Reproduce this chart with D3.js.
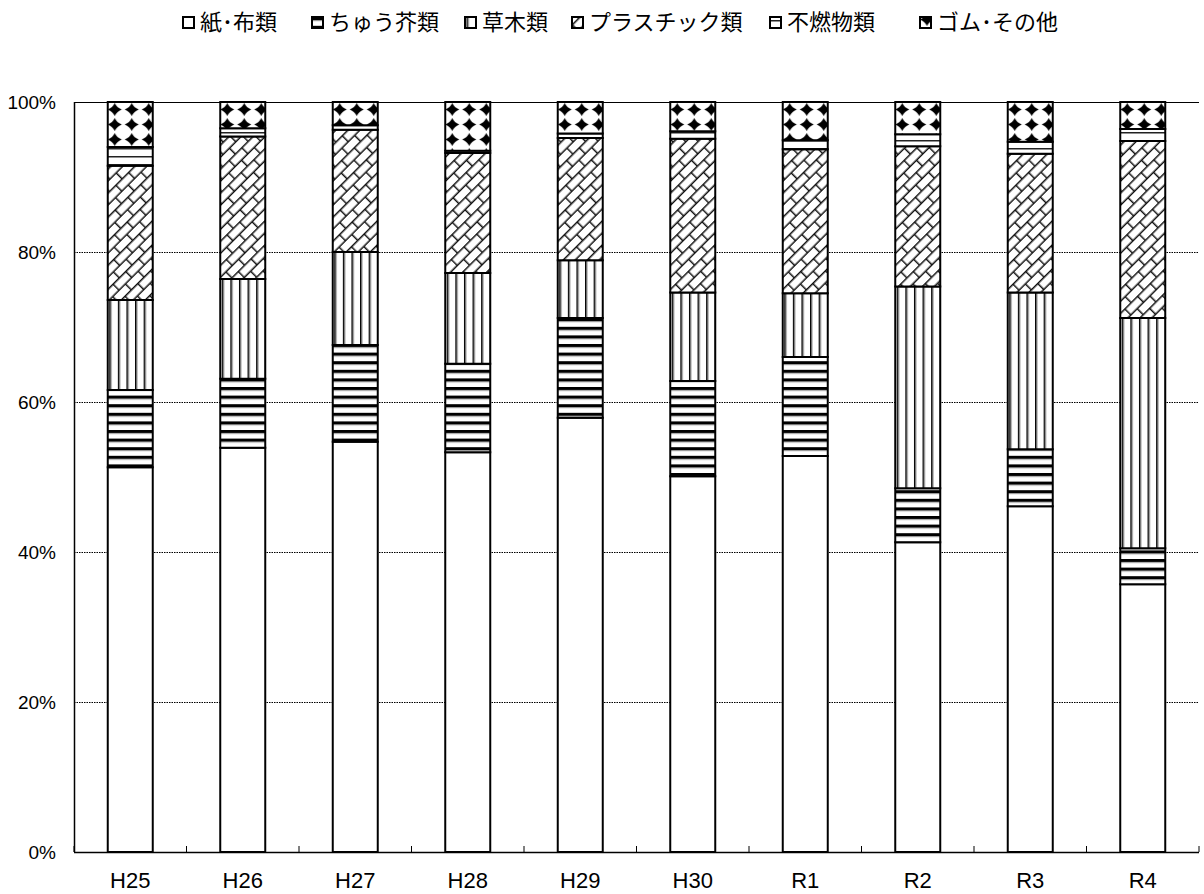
<!DOCTYPE html>
<html lang="ja">
<head>
<meta charset="utf-8">
<script src="https://cdn.jsdelivr.net/npm/d3@7"></script>
<style>
  html, body { margin: 0; padding: 0; background: #fff; }
  svg { display: block; }
</style>
</head>
<body>
<svg id="chart" width="1204" height="894"></svg>
<script>
// Composition of collected waste by fiscal year (percent of total)
const categories = ["H25", "H26", "H27", "H28", "H29", "H30", "R1", "R2", "R3", "R4"];
const seriesNames = ["紙･布類", "ちゅう芥類", "草木類", "プラスチック類", "不燃物類", "ゴム･その他"];
const paperCloth = [51.3, 53.9, 54.7, 53.3, 57.9, 50.1, 52.8, 41.3, 46.1, 35.7];
const kitchenWaste = [10.3, 9.2, 12.9, 11.8, 13.3, 12.7, 13.2, 7.2, 7.6, 4.8];
const grassWood = [12.0, 13.3, 12.4, 12.1, 7.7, 11.8, 8.5, 26.9, 20.9, 30.7];
const plastics = [17.9, 19.0, 16.3, 16.0, 16.3, 20.5, 19.2, 18.7, 18.5, 23.6];
const incombustibles = [2.5, 1.1, 0.6, 0.3, 0.6, 1.0, 1.2, 1.6, 1.6, 1.6];
const rubberOther = [6.0, 3.5, 3.1, 6.5, 4.2, 3.9, 5.1, 4.3, 5.3, 3.6];
const yTicks = [0, 20, 40, 60, 80, 100];

const seriesValues = [paperCloth, kitchenWaste, grassWood, plastics, incombustibles, rubberOther];
const rows = categories.map((c, i) => {
  const r = { cat: c };
  seriesNames.forEach((s, k) => { r[s] = seriesValues[k][i]; });
  return r;
});

const svg = d3.select("#chart");
const margin = { left: 74, right: 5, top: 102, bottom: 42 };
const W = 1204, H = 894;

const x = d3.scaleBand()
  .domain(categories)
  .range([margin.left, W - margin.right])
  .paddingInner(0.6)
  .paddingOuter(0.3);
const y = d3.scaleLinear().domain([0, 100]).range([H - margin.bottom, margin.top]);

// ---- fill patterns ----
const defs = svg.append("defs");

// ちゅう芥類: wide horizontal stripes
const pHoriz = defs.append("pattern").attr("id", "p-horiz")
  .attr("patternUnits", "userSpaceOnUse").attr("width", 8).attr("height", 8.6);
pHoriz.append("rect").attr("width", 8).attr("height", 8.6).attr("fill", "#fff");
pHoriz.append("rect").attr("y", 0).attr("width", 8).attr("height", 3).attr("fill", "#000");
pHoriz.append("rect").attr("y", 3).attr("width", 8).attr("height", 1).attr("fill", "#999");

// 草木類: vertical stripes
const pVert = defs.append("pattern").attr("id", "p-vert")
  .attr("patternUnits", "userSpaceOnUse").attr("width", 8.6).attr("height", 8).attr("x", 1.5);
pVert.append("rect").attr("width", 8.6).attr("height", 8).attr("fill", "#fff");
pVert.append("rect").attr("x", 0).attr("width", 1.6).attr("height", 8).attr("fill", "#000");
pVert.append("rect").attr("x", 1.6).attr("width", 1).attr("height", 8).attr("fill", "#aaa");

// プラスチック類: diagonal brick
const bw = 18, bh = 8.5;
const pBrick = defs.append("pattern").attr("id", "p-brick")
  .attr("patternUnits", "userSpaceOnUse").attr("width", bw).attr("height", bh * 2)
  .attr("patternTransform", "rotate(-45)");
pBrick.append("rect").attr("width", bw).attr("height", bh * 2).attr("fill", "#fff");
pBrick.append("path")
  .attr("d", `M0,0.7H${bw}M0,${bh + 0.7}H${bw}M0.7,0V${bh}M${bw / 2 + 0.7},${bh}V${bh * 2}`)
  .attr("stroke", "#111").attr("stroke-width", 1.5).attr("fill", "none");

// 不燃物類: thin horizontal lines
const pThin = defs.append("pattern").attr("id", "p-thin")
  .attr("patternUnits", "userSpaceOnUse").attr("width", 8).attr("height", 8).attr("y", 4);
pThin.append("rect").attr("width", 8).attr("height", 8).attr("fill", "#fff");
pThin.append("rect").attr("y", 0).attr("width", 8).attr("height", 1.5).attr("fill", "#222");

// ゴム・その他: black diamonds
const dw = 17, dh = 15;
const pDiam = defs.append("pattern").attr("id", "p-diam")
  .attr("patternUnits", "userSpaceOnUse").attr("width", dw).attr("height", dh)
  .attr("x", -1.5).attr("y", 12);
pDiam.append("rect").attr("width", dw).attr("height", dh).attr("fill", "#fff");
pDiam.append("path")
  .attr("d", `M${dw / 2},${dh / 2 - 6.5} Q${dw / 2 + 2},${dh / 2 - 2} ${dw / 2 + 7},${dh / 2} Q${dw / 2 + 2},${dh / 2 + 2} ${dw / 2},${dh / 2 + 6.5} Q${dw / 2 - 2},${dh / 2 + 2} ${dw / 2 - 7},${dh / 2} Q${dw / 2 - 2},${dh / 2 - 2} ${dw / 2},${dh / 2 - 6.5} Z`)
  .attr("fill", "#000");

const fills = ["#fff", "url(#p-horiz)", "url(#p-vert)", "url(#p-brick)", "url(#p-thin)", "url(#p-diam)"];

// ---- grid lines ----
const grid = svg.append("g");
grid.selectAll("line")
  .data(yTicks.filter(t => t > 0))
  .join("line")
  .attr("x1", margin.left).attr("x2", W - margin.right)
  .attr("y1", d => y(d) + 0.5).attr("y2", d => y(d) + 0.5)
  .attr("stroke", "#000").attr("stroke-width", 1)
  .attr("stroke-dasharray", d => d === 100 ? null : "1.5,1");

// ---- bars ----
const stacked = d3.stack().keys(seriesNames)(rows);
const barG = svg.append("g");
const catG = barG.selectAll("g.bar")
  .data(categories)
  .join("g").attr("class", "bar")
  .attr("transform", d => `translate(${x(d)},0)`);

catG.each(function (cat, i) {
  const g = d3.select(this);
  stacked.forEach((layer, k) => {
    const d = layer[i];
    g.append("rect")
      .attr("x", 0)
      .attr("width", x.bandwidth())
      .attr("y", y(d[1]))
      .attr("height", y(d[0]) - y(d[1]))
      .attr("fill", fills[k])
      .attr("stroke", "#000")
      .attr("stroke-width", 2);
  });
});

// ---- axes ----
const xAxis = svg.append("g");
xAxis.append("line")
  .attr("x1", margin.left).attr("x2", W - margin.right)
  .attr("y1", y(0) + 0.5).attr("y2", y(0) + 0.5)
  .attr("stroke", "#000").attr("stroke-width", 1.5);
const step = x.step();
const bounds = d3.range(categories.length + 1).map(i => margin.left + i * step);
xAxis.selectAll("line.tick")
  .data(bounds)
  .join("line").attr("class", "tick")
  .attr("x1", d => d).attr("x2", d => d)
  .attr("y1", y(0)).attr("y2", y(0) - 6)
  .attr("stroke", "#000").attr("stroke-width", 1);
xAxis.selectAll("text")
  .data(categories)
  .join("text")
  .attr("x", d => x(d) + x.bandwidth() / 2)
  .attr("y", 888)
  .attr("text-anchor", "middle")
  .attr("font-family", "'Liberation Sans', Arial, sans-serif")
  .attr("font-size", 22)
  .attr("fill", "#000")
  .text(d => d);

const yAxis = svg.append("g");
yAxis.append("line")
  .attr("x1", margin.left + 0.5).attr("x2", margin.left + 0.5)
  .attr("y1", y(100)).attr("y2", y(0))
  .attr("stroke", "#000").attr("stroke-width", 1.5);
yAxis.selectAll("text")
  .data(yTicks)
  .join("text")
  .attr("x", 56)
  .attr("y", d => y(d))
  .attr("dy", "0.36em")
  .attr("text-anchor", "end")
  .attr("font-family", "'Liberation Sans', Arial, sans-serif")
  .attr("font-size", 19)
  .attr("fill", "#000")
  .text(d => d + "%");

// ---- legend ----
const legendX = [183, 312, 465, 572, 770, 920];
const sw = 11, gapText = 6;
const items = svg.append("g").selectAll("g.item")
  .data(seriesNames)
  .join("g").attr("class", "item")
  .attr("transform", (d, k) => `translate(${legendX[k]},0)`);
items.append("rect")
  .attr("width", sw).attr("height", sw)
  .attr("y", 17)
  .attr("fill", (d, k) => fills[k])
  .attr("stroke", "#000").attr("stroke-width", 2);
items.append("text")
  .attr("x", sw + gapText)
  .attr("y", 22)
  .attr("dy", "0.36em")
  .attr("font-family", "'Noto Sans CJK JP', sans-serif")
  .attr("font-size", 22)
  .attr("fill", "#000")
  .text(d => d);
</script>
</body>
</html>
